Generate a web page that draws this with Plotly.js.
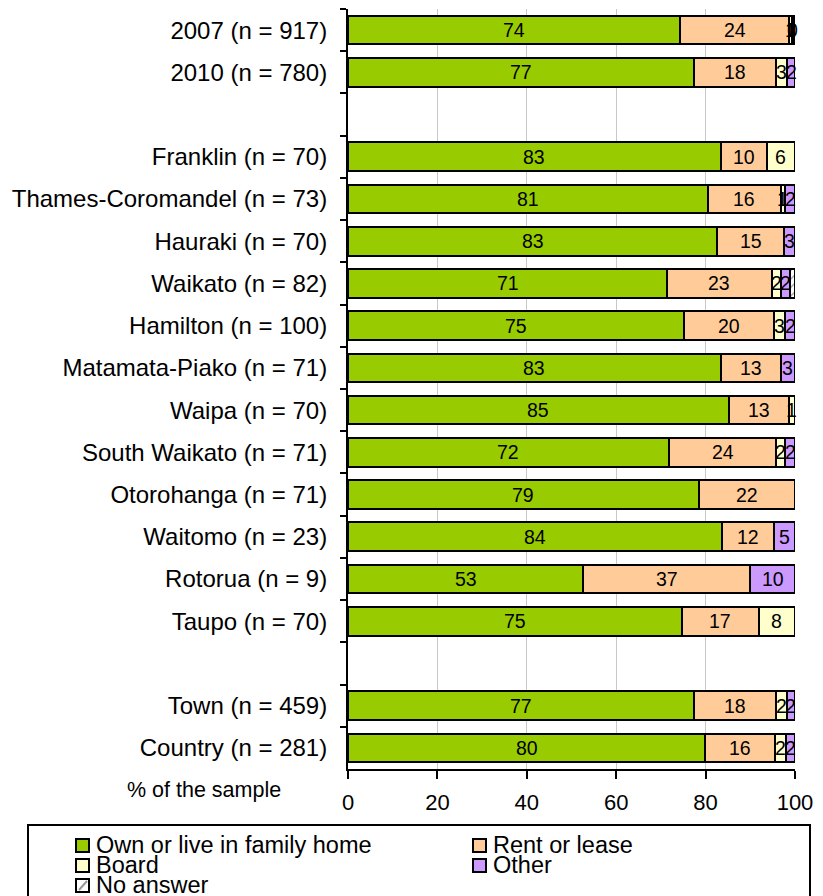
<!DOCTYPE html>
<html>
<head>
<meta charset="utf-8">
<script src="https://cdn.plot.ly/plotly-3.0.1.min.js"></script>
<style>
  body { margin: 0; background: #fff; }
  #chart { width: 823px; height: 896px; }
</style>
</head>
<body>
<div id="chart"></div>
<script>
// categories top to bottom, blanks are spacer rows
const categories = [
    "2007 (n = 917)", "2010 (n = 780)", " ",
    "Franklin (n = 70)", "Thames-Coromandel (n = 73)", "Hauraki (n = 70)",
    "Waikato (n = 82)", "Hamilton (n = 100)", "Matamata-Piako (n = 71)",
    "Waipa (n = 70)", "South Waikato (n = 71)", "Otorohanga (n = 71)",
    "Waitomo (n = 23)", "Rotorua (n = 9)", "Taupo (n = 70)", "  ",
    "Town (n = 459)", "Country (n = 281)"
];

const ownHome   = [74.3, 77.4, null, 83.4, 80.5, 82.6, 71.4, 75.2, 83.4, 85.2, 71.8, 78.5, 83.7, 52.6, 74.7, null, 77.4, 79.9];
const rentLease = [24.4, 18.3, null, 10.3, 16.3, 14.9, 23.4, 20.1, 13.4, 13.4, 24.0, 21.5, 11.7, 37.4, 17.2, null, 18.3, 15.7];
const board     = [0.7, 2.6, null, 6.3, 1.0, null, 2.0, 2.5, null, 1.3, 2.0, null, null, null, 8.0, null, 2.4, 2.3];
const other     = [0.3, 1.7, null, null, 2.2, 2.5, 2.0, 2.2, 3.1, null, 2.2, null, 4.6, 10.0, null, null, 1.9, 2.1];
const noAnswer  = [0.3, null, null, null, null, null, 1.1, null, null, null, null, null, null, null, null, null, null, null];

const seriesNames  = ["Own or live in family home", "Rent or lease", "Board", "Other", "No answer"];
const seriesValues = [ownHome, rentLease, board, other, noAnswer];
const seriesColors = ["#99CC00", "#FFCC99", "#FFFFCC", "#CC99FF", "#FFFFFF"];
const labelled     = [true, true, true, true, false];

const FONT = "Liberation Sans, Arial, sans-serif";

// plot area in pixels, used to place the legend box and notes
const W = 823, H = 896;
const M = { l: 348, r: 28, t: 9, b: 127 };
const pw = W - M.l - M.r, ph = H - M.t - M.b;
const px = x => (x - M.l) / pw;
const py = y => (H - M.b - y) / ph;

const traces = seriesValues.map((vals, i) => ({
    type: "bar",
    orientation: "h",
    name: seriesNames[i],
    y: categories,
    x: vals,
    marker: {
        color: seriesColors[i],
        line: { color: "#000", width: 2 },
        pattern: i === 4 ? { shape: "/", fgcolor: "#999", size: 6, solidity: 0.2 } : undefined
    },
    hoverinfo: "skip",
    showlegend: false
}));

// segment labels, centred on each stacked piece (Excel style, allowed to spill)
const annotations = [];
categories.forEach((cat, r) => {
    let start = 0;
    seriesValues.forEach((vals, i) => {
        const v = vals[r];
        if (v == null) return;
        if (labelled[i]) {
            annotations.push({
                x: start + v / 2, y: cat, xref: "x", yref: "y",
                text: String(Math.round(v)), showarrow: false,
                font: { family: FONT, size: 19.5, color: "#000" }
            });
        }
        start += v;
    });
});

annotations.push({
    text: "% of the sample", xref: "paper", yref: "paper",
    x: px(204), y: py(790), xanchor: "center", yanchor: "middle",
    showarrow: false, font: { family: FONT, size: 21.5, color: "#000" }
});

// legend drawn by hand so the rows can be as tight as the original
const shapes = [{
    type: "rect", xref: "paper", yref: "paper",
    x0: px(28), x1: px(810), y0: py(905), y1: py(825),
    line: { color: "#000", width: 2 }, fillcolor: "rgba(0,0,0,0)"
}];
const legendCols = [76, 473];
const legendRows = [845, 865, 885];
seriesNames.forEach((name, i) => {
    const cx = legendCols[i % 2], cy = legendRows[Math.floor(i / 2)];
    shapes.push({
        type: "rect", xref: "paper", yref: "paper",
        x0: px(cx), x1: px(cx + 13), y0: py(cy + 7), y1: py(cy - 6),
        line: { color: "#000", width: 2 }, fillcolor: seriesColors[i]
    });
    if (i === 4) {
        shapes.push({
            type: "line", xref: "paper", yref: "paper",
            x0: px(cx + 3), x1: px(cx + 11), y0: py(cy + 5), y1: py(cy - 4),
            line: { color: "#999", width: 2 }
        });
    }
    annotations.push({
        text: name, xref: "paper", yref: "paper",
        x: px(cx + 18), y: py(cy), xanchor: "left", yanchor: "middle",
        showarrow: false, font: { family: FONT, size: 23.5, color: "#000" }
    });
});

const layout = {
    width: W,
    height: H,
    margin: M,
    barmode: "stack",
    bargap: 0.32,
    paper_bgcolor: "#fff",
    plot_bgcolor: "#fff",
    font: { family: FONT, size: 19, color: "#000" },
    showlegend: false,
    xaxis: {
        range: [0, 100],
        tickvals: [0, 20, 40, 60, 80, 100],
        showgrid: true,
        gridcolor: "#C8C8C8",
        gridwidth: 1,
        zeroline: false,
        showline: true,
        linecolor: "#000",
        linewidth: 2,
        ticks: "outside",
        ticklen: 8,
        tickwidth: 2,
        tickcolor: "#000",
        tickfont: { size: 22 },
        ticklabelstandoff: 5
    },
    yaxis: {
        type: "category",
        autorange: "reversed",
        showline: true,
        linecolor: "#000",
        linewidth: 2,
        ticks: "outside",
        tickson: "boundaries",
        ticklen: 6,
        tickwidth: 2,
        tickcolor: "#000",
        showgrid: false,
        tickfont: { size: 24 },
        ticklabelstandoff: 14
    },
    shapes: shapes,
    annotations: annotations
};

Plotly.newPlot("chart", traces, layout, { displayModeBar: false, staticPlot: true });
</script>
</body>
</html>
